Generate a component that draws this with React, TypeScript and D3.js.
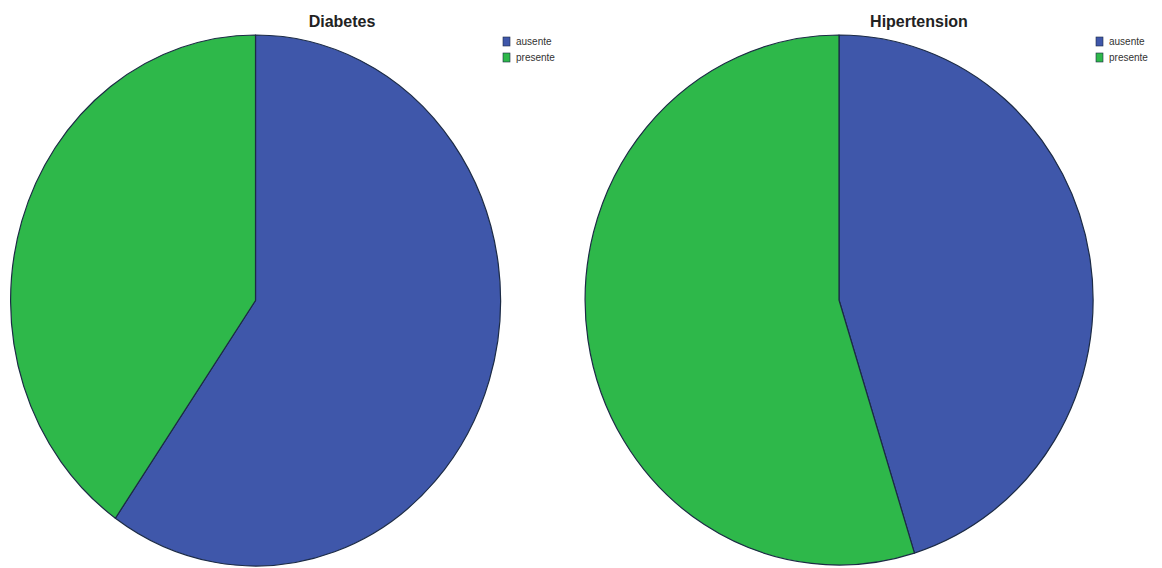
import React from "react";
import * as d3 from "d3";

// Categories and percentages for each pie
const categories = ["ausente", "presente"];
const diabetesValues = [59.7, 40.3];
const hipertensionValues = [45.2, 54.8];
const titles = ["Diabetes", "Hipertension"];
const colors = ["#3f57aa", "#2eb84a"];

const W = 1162;
const H = 568;

type Panel = {
  title: string;
  values: number[];
  cx: number;
  cy: number;
  rx: number;
  ry: number;
  titleX: number;
  legendX: number;
};

const panels: Panel[] = [
  { title: titles[0], values: diabetesValues, cx: 255.5, cy: 300.5, rx: 245, ry: 265.5, titleX: 342, legendX: 503 },
  { title: titles[1], values: hipertensionValues, cx: 839, cy: 300, rx: 254, ry: 265, titleX: 919, legendX: 1096 },
];

const pie = d3
  .pie<number>()
  .sort(null)
  .value((d) => d)
  .startAngle(0)
  .endAngle(2 * Math.PI);

// Unit-radius arcs, stretched to the ellipse by a scale transform
const arc = d3.arc<d3.PieArcDatum<number>>().innerRadius(0).outerRadius(1);

const font = "'Liberation Sans', Arial, sans-serif";

export default function App() {
  return (
    <svg
      width={W}
      height={H}
      style={{ position: "absolute", left: 0, top: 0, background: "#fff" }}
    >
      <rect x={0} y={0} width={W} height={H} fill="#fff" />
      {panels.map((p) => (
        <g key={p.title}>
          <g transform={`translate(${p.cx},${p.cy}) scale(${p.rx},${p.ry})`}>
            {pie(p.values).map((a, i) => (
              <path
                key={i}
                d={arc(a) || ""}
                fill={colors[i]}
                stroke="#1c2b45"
                strokeWidth={1.2}
                strokeLinejoin="round"
                vectorEffect="non-scaling-stroke"
              />
            ))}
          </g>
          <text
            x={p.titleX}
            y={27}
            textAnchor="middle"
            fontFamily={font}
            fontWeight="bold"
            fontSize={16}
            fill="#222"
          >
            {p.title}
          </text>
          {categories.map((c, i) => (
            <g key={c} transform={`translate(${p.legendX},${37 + i * 16})`}>
              <rect
                x={0}
                y={0}
                width={7}
                height={9}
                fill={colors[i]}
                stroke="#1c2b45"
                strokeWidth={0.6}
              />
              <text
                x={13}
                y={8}
                fontFamily={font}
                fontSize={10}
                fill="#333"
              >
                {c}
              </text>
            </g>
          ))}
        </g>
      ))}
    </svg>
  );
}
